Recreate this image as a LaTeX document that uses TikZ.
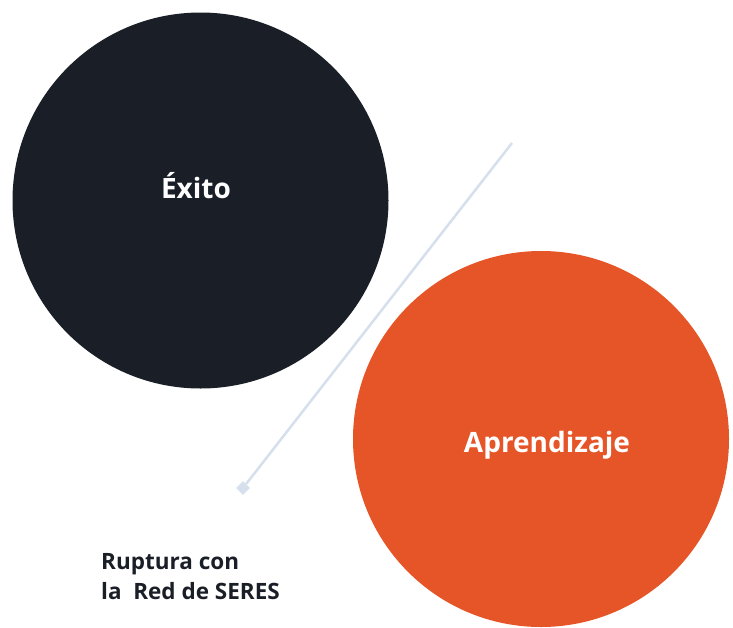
\documentclass[tikz,border=0pt]{standalone}
\usepackage{fontspec}
\setmainfont{Open Sans}
\usetikzlibrary{positioning}
\usetikzlibrary{shapes.geometric}
\definecolor{darkbg}{HTML}{1A1F27}
\definecolor{orangebg}{HTML}{E65528}
\definecolor{linegray}{HTML}{D6DFEC}

\begin{document}
\begin{tikzpicture}[x=1pt,y=-1pt,inner sep=0pt,
		bigcircle/.style={circle,minimum size=376pt},
		circlelabel/.style={anchor=base,text=white,font=\bfseries\fontsize{28}{32}\selectfont}]
		\useasboundingbox (0,0) rectangle (733,627);
		\node [bigcircle,fill=darkbg] (exito) at (200.5,200.5) {};
		\node [bigcircle,fill=orangebg] (aprendizaje) at (541,439) {};
		\node [circlelabel] (exitolabel) at (196,198) {Éxito};
		\node [circlelabel] (aprendizajelabel) at (547,452) {Aprendizaje};
		\coordinate (linetop) at (512,143);
		\node [diamond,fill=linegray,minimum size=14pt] (linemark) at (243,488) {};
		\draw [linegray,line width=2.5pt] (linetop) -- (linemark);
		\node [anchor=base west,align=left,text=darkbg,
			font=\bfseries\fontsize{22.5}{30}\selectfont] (ruptura) at (101,599)
			{Ruptura con\\la~ Red de SERES};
	\end{tikzpicture}
\end{document}
